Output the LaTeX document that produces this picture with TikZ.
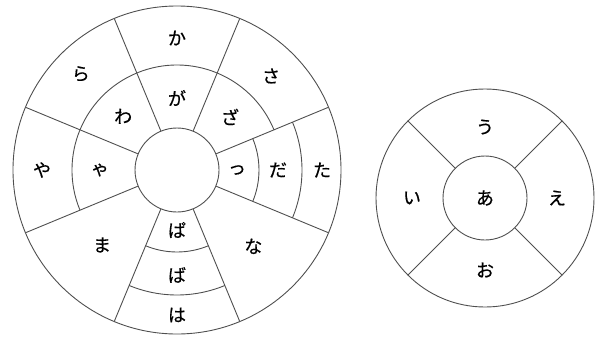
\documentclass[tikz,border=0pt]{standalone}
\usepackage{fontspec}
\newfontfamily\kana[FakeBold=0.6]{Noto Sans CJK JP}
\usetikzlibrary{positioning}
\definecolor{Rim}{HTML}{4F4F4F}

\begin{document}
\begin{tikzpicture}[x=1pt,y=1pt,
    ringline/.style={draw=Rim,line width=.9pt},
    kanalabel/.style={font=\kana\fontsize{18}{20}\selectfont,inner sep=0pt}]
    \useasboundingbox (-177,-168) rectangle (419,170);
    % left wheel
    \draw[ringline] (0,0) circle[radius=164];
    \draw[ringline] (0,0) circle[radius=42];
    \foreach \a in {22.5,67.5,...,337.5}
      \draw[ringline] (\a:42)--(\a:164);
    \draw[ringline] (22.5:105) arc[start angle=22.5,end angle=202.5,radius=105];
    \foreach \r in {82,125}{
      \draw[ringline] (-22.5:\r) arc[start angle=-22.5,end angle=22.5,radius=\r];
      \draw[ringline] (247.5:\r) arc[start angle=247.5,end angle=292.5,radius=\r];
    }
    \node[kanalabel] (ka) at (90:132) {か};
    \node[kanalabel] (ga) at (90:72) {が};
    \node[kanalabel] (sa) at (45:133) {さ};
    \node[kanalabel] (za) at (45:75) {ざ};
    \node[kanalabel] (ra) at (135:136) {ら};
    \node[kanalabel] (wa) at (135:76) {わ};
    \node[kanalabel] (ya) at (180:135) {や};
    \node[kanalabel] (xya) at (180:77) {ゃ};
    \node[kanalabel] (ta) at (0:145) {た};
    \node[kanalabel] (da) at (0:101) {だ};
    \node[kanalabel] (xtu) at (0:60) {っ};
    \node[kanalabel] (na) at (-45:108) {な};
    \node[kanalabel] (ma) at (-135:106) {ま};
    \node[kanalabel] (pa) at (-90:60) {ぱ};
    \node[kanalabel] (ba) at (-90:105) {ば};
    \node[kanalabel] (ha) at (-90:145) {は};
    % right wheel
    \begin{scope}[shift={(308,-28)}]
      \draw[ringline] (0,0) circle[radius=109];
      \draw[ringline] (0,0) circle[radius=42];
      \foreach \a in {45,135,225,315}
        \draw[ringline] (\a:42)--(\a:109);
      \node[kanalabel] (a) at (0,0) {あ};
      \node[kanalabel] (u) at (90:71) {う};
      \node[kanalabel] (i) at (180:73) {い};
      \node[kanalabel] (e) at (0:72) {え};
      \node[kanalabel] (o) at (-90:72) {お};
    \end{scope}
\end{tikzpicture}
\end{document}
